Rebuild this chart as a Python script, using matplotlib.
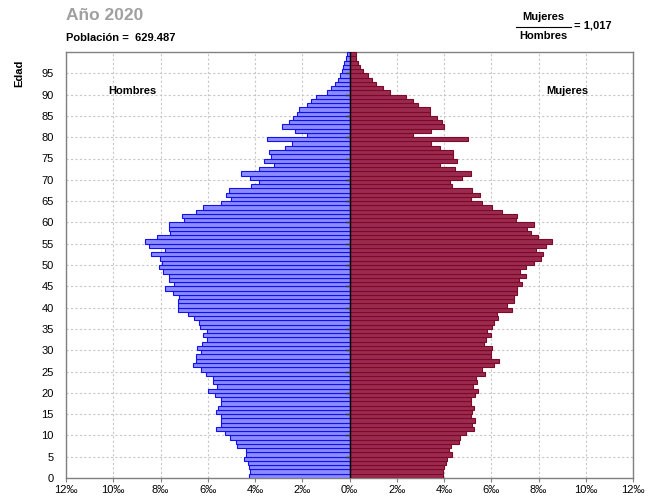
import numpy as np
import matplotlib
matplotlib.use('Agg')
import matplotlib.pyplot as plt
from matplotlib.lines import Line2D

plt.rcParams['font.family'] = ['Liberation Sans', 'DejaVu Sans']

# Population share by single year of age (per mille), ages 0..99
ages = np.arange(0, 100)
hombres = [4.24, 4.22, 4.24, 4.31, 4.47, 4.36, 4.38, 4.78, 4.82, 5.04,
           5.29, 5.64, 5.46, 5.46, 5.46, 5.64, 5.55, 5.46, 5.46, 5.69,
           5.99, 5.62, 5.76, 5.78, 6.09, 6.27, 6.62, 6.51, 6.48, 6.30,
           6.44, 6.26, 6.02, 6.20, 6.02, 6.34, 6.37, 6.58, 6.83, 7.28,
           7.28, 7.28, 7.21, 7.49, 7.79, 7.42, 7.65, 7.65, 7.89, 8.06,
           7.94, 8.02, 8.41, 7.81, 8.48, 8.65, 8.14, 7.58, 7.64, 7.64,
           7.01, 7.11, 6.48, 6.20, 5.46, 5.01, 5.22, 5.11, 4.19, 3.84,
           4.22, 4.61, 3.84, 3.21, 3.63, 3.32, 3.39, 2.74, 2.43, 3.49,
           1.80, 2.29, 2.85, 2.57, 2.41, 2.22, 2.12, 1.80, 1.62, 1.41,
           0.96, 0.79, 0.61, 0.50, 0.40, 0.33, 0.26, 0.22, 0.16, 0.12]
mujeres = [3.97, 3.97, 4.01, 4.08, 4.12, 4.33, 4.22, 4.29, 4.64, 4.68,
           4.92, 5.27, 5.18, 5.32, 5.13, 5.18, 5.27, 5.13, 5.13, 5.30,
           5.46, 5.23, 5.41, 5.34, 5.72, 5.62, 6.11, 6.33, 6.00, 5.97,
           6.04, 5.69, 5.79, 5.97, 5.83, 6.04, 6.11, 6.28, 6.26, 6.89,
           6.68, 6.96, 6.96, 7.10, 7.11, 7.30, 7.19, 7.47, 7.22, 7.47,
           7.79, 8.10, 8.19, 7.89, 8.33, 8.59, 7.97, 7.69, 7.51, 7.79,
           7.04, 7.11, 6.47, 6.02, 5.62, 5.16, 5.51, 5.20, 4.33, 4.25,
           4.75, 5.16, 4.47, 3.83, 4.53, 4.36, 4.40, 3.81, 3.46, 5.00,
           2.69, 3.46, 3.99, 3.91, 3.70, 3.42, 3.39, 2.92, 2.69, 2.41,
           1.70, 1.40, 1.14, 0.96, 0.79, 0.58, 0.44, 0.37, 0.27, 0.26]

x_ticks = np.arange(-12, 13, 2)
y_ticks = np.arange(0, 100, 5)

W, H = 648, 499
fig = plt.figure(figsize=(W / 100, H / 100), dpi=100)
ax = fig.add_axes([66 / W, 1 - 478 / H, (633 - 66) / W, (478 - 52) / H])

ax.barh(ages, -np.array(hombres), height=1.0, align='edge',
        color='#8c8cff', edgecolor='#1010f0', linewidth=0.8, zorder=3)
ax.barh(ages, mujeres, height=1.0, align='edge',
        color='#9b2a50', edgecolor='#7a0a28', linewidth=0.8, zorder=3)

ax.axvline(0, color='black', linewidth=1.0, zorder=4)
ax.hlines(y_ticks[1:], -0.18, 0, color='#333333', linewidth=1.0, zorder=4)

ax.set_xlim(-12, 12)
ax.set_ylim(0, 100)
ax.set_xticks(x_ticks)
ax.set_xticklabels([f'{abs(v)}‰' for v in x_ticks], fontsize=8)
ax.set_yticks(y_ticks)
ax.set_yticklabels([str(v) for v in y_ticks], fontsize=8)
ax.tick_params(axis='y', length=0, pad=9)
ax.tick_params(axis='x', length=3, pad=2, color='#808080')

ax.grid(True, color='#c8c8c8', linestyle=(0, (2, 2)), linewidth=0.8, zorder=0)
for s in ax.spines.values():
    s.set_color('#808080')
    s.set_linewidth(1.0)

ax.text(-9.2, 90.8, 'Hombres', fontsize=8, fontweight='bold', ha='center', va='center')
ax.text(9.2, 90.8, 'Mujeres', fontsize=8, fontweight='bold', ha='center', va='center')

fig.text(19 / W, 1 - 73 / H, 'Edad', rotation=90, fontsize=8, fontweight='bold',
         ha='center', va='center')

fig.text(66 / W, 1 - 16 / H, 'Año 2020', fontsize=12.5, fontweight='bold',
         color='#a0a0a0', ha='left', va='center')
fig.text(66 / W, 1 - 38 / H, 'Población =  629.487', fontsize=8, fontweight='bold',
         ha='left', va='center')

fig.text(543 / W, 1 - 17 / H, 'Mujeres', fontsize=8, fontweight='bold', ha='center', va='center')
fig.text(543 / W, 1 - 36 / H, 'Hombres', fontsize=8, fontweight='bold', ha='center', va='center')
fig.add_artist(Line2D([516 / W, 571 / W], [1 - 27 / H, 1 - 27 / H],
                      transform=fig.transFigure, color='black', linewidth=0.8))
fig.text(574 / W, 1 - 26 / H, '= 1,017', fontsize=8, fontweight='bold', ha='left', va='center')

fig.savefig('out.png', dpi=100)
